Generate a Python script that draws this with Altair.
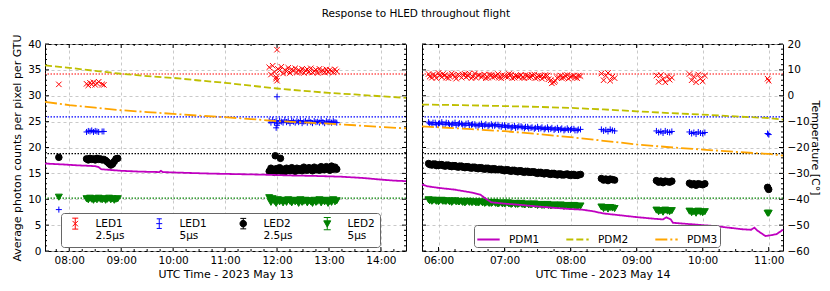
import altair as alt
import pandas as pd

FONT = "DejaVu Sans"

# ---------------- axes ----------------
LEFT_X_DOMAIN = ["07:32", "14:29"]
RIGHT_X_DOMAIN = ["05:45", "11:13"]
LEFT_HOUR_TICKS = [8, 9, 10, 11, 12, 13, 14]
RIGHT_HOUR_TICKS = [6, 7, 8, 9, 10, 11]
COUNT_DOMAIN = [0, 40]
COUNT_TICKS = [0, 5, 10, 15, 20, 25, 30, 35, 40]
TEMP_DOMAIN = [-60, 20]
TEMP_TICKS = [-60, -50, -40, -30, -20, -10, 0, 10, 20]

# ---------------- series definitions ----------------
LED_NAMES = ["LED1|2.5μs", "LED1|5μs", "LED2|2.5μs", "LED2|5μs"]
LED_COLORS = ["#ff0000", "#0000ff", "#000000", "#008000"]
X_PATH = "M-1,-1L1,1M-1,1L1,-1"
PLUS_PATH = "M-1,0L1,0M0,-1L0,1"
LED_SHAPES = [X_PATH, PLUS_PATH, "circle", "triangle-down"]
LED_SIZES = [30, 49, 49, 40]
# legend handles: marker with a small capped error bar
LED_LEGEND_SHAPES = [
    "M-1,-1L1,1M-1,1L1,-1M0,-2L0,2M-1.1,-2L1.1,-2M-1.1,2L1.1,2",
    "M-1,0L1,0M0,-1.6L0,1.6M-0.85,-1.6L0.85,-1.6M-0.85,1.6L0.85,1.6",
    "M1,0A1,1,0,1,1,-1,0A1,1,0,1,1,1,0ZM0,-1.6L0,1.6M-0.9,-1.6L0.9,-1.6M-0.9,1.6L0.9,1.6",
    "M-1,-0.8L1,-0.8L0,1ZM0,-1.75L0,1.75M-1,-1.75L1,-1.75M-1,1.75L1,1.75",
]

PDM_NAMES = ["PDM1", "PDM2", "PDM3"]
PDM_COLORS = ["#bf00bf", "#bfbf00", "#ffa500"]
PDM_DASHES = [[1, 0], [7, 3], [12, 3, 2, 3]]

REF_LEVELS = [34.2, 25.9, 18.8, 10.2]
REF_COLORS = ["#ff0000", "#0000ff", "#000000", "#008000"]

# ---------------- May 13 LED data ----------------
M13_SINGLE_T = ["07:48"]
M13_SINGLE_RED = [32.2]
M13_SINGLE_BLUE = [8.0]
M13_SINGLE_BLACK = [18.1]
M13_SINGLE_GREEN = [10.4]

M13_A_T_RB = ["08:20", "08:22", "08:24", "08:26", "08:28", "08:30", "08:32", "08:34", "08:38", "08:40"]
M13_A_RED = [32.3, 32.0, 32.5, 32.2, 32.6, 32.1, 32.4, 32.7, 32.2, 32.1]
M13_A_BLUE = [23.0, 23.2, 23.1, 23.3, 23.0, 23.2, 23.1, 23.0, 23.1, 23.1]
M13_A_T_KG = ["08:20", "08:22", "08:24", "08:26", "08:28", "08:30", "08:32", "08:34", "08:36", "08:38",
              "08:40", "08:42", "08:44", "08:46", "08:48", "08:50", "08:52", "08:54", "08:56"]
M13_A_BLACK = [17.8, 17.6, 17.9, 17.7, 17.8, 17.6, 17.9, 17.7, 17.8, 17.6,
               17.7, 17.5, 17.2, 16.9, 16.6, 16.8, 17.3, 17.8, 17.9]
M13_A_GREEN = [10.1, 9.9, 10.2, 10.0, 9.8, 10.1, 9.9, 10.2, 10.0, 9.9,
               10.1, 9.8, 10.0, 10.2, 9.9, 10.1, 9.8, 10.0, 10.1]

M13_B_T = ["11:51", "11:53", "11:55", "11:57", "11:59", "12:01", "12:03", "12:05", "12:07", "12:09",
           "12:11", "12:13", "12:15", "12:17", "12:19", "12:21", "12:23", "12:25", "12:27", "12:29",
           "12:31", "12:33", "12:35", "12:37", "12:39", "12:41", "12:43", "12:45", "12:47", "12:49",
           "12:51", "12:53", "12:55", "12:57", "12:59", "13:01", "13:03", "13:05", "13:07", "13:09"]
M13_B_RED = [35.5, 34.1, 35.8, 34.6, 33.6, 35.2, 34.9, 35.6, 34.3, 35.0,
             34.7, 35.4, 34.4, 35.1, 34.8, 35.3, 34.5, 35.0, 34.6, 35.2,
             34.4, 34.9, 35.1, 34.6, 35.3, 34.5, 34.8, 35.0, 34.4, 35.2,
             34.7, 34.9, 34.5, 35.1, 34.6, 35.0, 34.8, 34.5, 35.1, 34.7]
M13_B_BLUE = [25.2, 24.8, 25.3, 24.9, 25.1, 24.7, 25.2, 25.0, 24.8, 25.3,
              24.9, 25.1, 24.7, 25.2, 25.0, 24.8, 25.1, 24.9, 25.2, 24.7,
              25.0, 25.1, 24.8, 25.2, 24.9, 24.7, 25.1, 24.9, 25.0, 24.8,
              25.2, 24.9, 24.7, 25.1, 24.9, 25.0, 24.8, 25.1, 24.9, 24.8]
M13_B_BLACK = [15.4, 16.0, 15.6, 15.2, 15.9, 15.5, 16.1, 15.4, 15.8, 15.3,
               16.0, 15.6, 15.5, 16.1, 15.7, 15.4, 16.0, 15.6, 15.9, 15.5,
               16.2, 15.7, 15.6, 16.1, 15.8, 15.5, 16.2, 15.7, 16.0, 15.6,
               16.3, 15.8, 15.7, 16.3, 15.9, 15.6, 16.4, 15.8, 16.2, 15.8]
M13_B_GREEN = [10.3, 9.4, 10.1, 9.6, 9.2, 9.9, 9.5, 9.8, 9.3, 9.7,
               9.4, 9.9, 9.6, 9.3, 9.8, 9.5, 9.7, 9.2, 9.9, 9.4,
               9.6, 9.8, 9.3, 9.7, 9.5, 9.2, 9.8, 9.4, 9.6, 9.9,
               9.3, 9.7, 9.5, 9.8, 9.2, 9.6, 9.4, 9.9, 9.5, 9.7]

M13_OUT_S = ["LED1|2.5μs", "LED1|2.5μs", "LED1|2.5μs", "LED1|5μs", "LED1|5μs", "LED1|5μs",
             "LED2|2.5μs", "LED2|2.5μs"]
M13_OUT_T = ["12:00", "11:59", "12:00", "12:00", "11:59", "12:00", "11:58", "12:04"]
M13_OUT_V = [38.9, 33.3, 32.9, 29.8, 23.8, 24.3, 18.4, 17.9]

# ---------------- May 14 LED data ----------------
M14_C_T = ["05:51", "05:54", "05:57", "06:00", "06:03", "06:06", "06:09", "06:12", "06:15", "06:18",
           "06:21", "06:24", "06:27", "06:30", "06:33", "06:36", "06:39", "06:42", "06:45", "06:48",
           "06:51", "06:54", "06:57", "07:00", "07:03", "07:06", "07:09", "07:12", "07:15", "07:18",
           "07:21", "07:24", "07:27", "07:30", "07:33", "07:36", "07:39", "07:42", "07:45", "07:48",
           "07:51", "07:54", "07:57", "08:00", "08:03", "08:06", "08:09"]
M14_C_RED = [34.2, 33.5, 33.9, 34.4, 33.6, 34.0, 33.4, 34.3, 33.7, 34.1,
             33.5, 34.2, 33.8, 33.4, 34.3, 33.9, 33.6, 34.1, 33.5, 34.0,
             33.7, 34.2, 33.4, 33.9, 33.6, 34.1, 33.5, 33.8, 34.0, 33.4,
             33.9, 33.6, 34.1, 33.5, 33.8, 33.6, 33.9, 33.0, 32.6, 33.4,
             33.9, 33.5, 34.0, 33.6, 33.9, 33.4, 33.8]
M14_C_BLUE = [24.9, 24.5, 24.8, 24.6, 24.9, 24.5, 24.7, 24.4, 24.8, 24.5,
              24.6, 24.3, 24.7, 24.4, 24.5, 24.2, 24.6, 24.3, 24.1, 24.5,
              24.2, 24.4, 24.0, 24.3, 24.1, 23.8, 24.2, 23.9, 24.1, 23.7,
              24.0, 23.8, 23.6, 24.0, 23.7, 23.5, 23.9, 23.6, 23.4, 23.8,
              23.5, 23.3, 23.7, 23.4, 23.6, 23.3, 23.5]
M14_C_BLACK = [16.9, 16.6, 16.8, 16.5, 16.7, 16.4, 16.6, 16.3, 16.5, 16.2,
               16.4, 16.1, 16.3, 16.0, 16.2, 15.9, 16.1, 15.8, 16.0, 15.7,
               15.9, 15.7, 15.8, 15.5, 15.7, 15.4, 15.6, 15.3, 15.5, 15.2,
               15.4, 15.2, 15.3, 15.0, 15.2, 14.9, 15.1, 14.8, 15.0, 14.7,
               14.9, 14.7, 14.9, 14.6, 14.8, 14.6, 14.8]
M14_C_GREEN = [9.9, 9.6, 9.8, 9.5, 9.8, 9.6, 9.7, 9.4, 9.7, 9.5,
               9.6, 9.3, 9.6, 9.4, 9.5, 9.3, 9.5, 9.2, 9.4, 9.2,
               9.4, 9.1, 9.3, 9.1, 9.3, 9.0, 9.2, 9.0, 9.2, 8.9,
               9.1, 8.9, 9.1, 8.8, 9.0, 8.8, 9.0, 8.7, 8.9, 8.7,
               8.9, 8.6, 8.8, 8.6, 8.8, 8.6, 8.7]
M14_C2_T = ["05:52", "05:55", "05:58", "06:01", "06:04", "06:07", "06:10", "06:13", "06:16", "06:19",
            "06:22", "06:25", "06:28", "06:31", "06:34", "06:37", "06:40", "06:43", "06:46", "06:49",
            "06:52", "06:55", "06:58", "07:01", "07:04", "07:07", "07:10", "07:13", "07:16", "07:19",
            "07:22", "07:25", "07:28", "07:31", "07:34", "07:37", "07:40", "07:43", "07:46", "07:49",
            "07:52", "07:55", "07:58", "08:01", "08:04", "08:07"]
M14_C2_RED = [33.7, 34.1, 33.4, 33.9, 34.2, 33.5, 33.8, 34.0, 33.3, 33.9,
              34.1, 33.6, 34.3, 33.7, 33.5, 34.0, 33.8, 33.4, 34.1, 33.6,
              33.9, 33.5, 34.0, 33.7, 34.2, 33.4, 33.9, 33.6, 33.5, 34.0,
              33.5, 34.0, 33.4, 33.9, 33.3, 34.0, 33.2, 32.4, 32.9, 33.6,
              33.4, 33.9, 33.3, 33.8, 33.5, 33.9]
M14_C2_BLUE = [24.6, 24.8, 24.4, 24.7, 24.5, 24.8, 24.4, 24.6, 24.3, 24.7,
               24.4, 24.6, 24.3, 24.5, 24.2, 24.4, 24.1, 24.5, 24.3, 24.2,
               24.4, 24.1, 24.3, 23.9, 24.2, 24.0, 23.8, 24.1, 23.9, 24.0,
               23.7, 23.9, 23.8, 23.6, 23.9, 23.7, 23.5, 23.8, 23.6, 23.4,
               23.7, 23.5, 23.4, 23.6, 23.3, 23.5]
M14_C2_BLACK = [16.7, 16.8, 16.5, 16.7, 16.5, 16.6, 16.4, 16.5, 16.3, 16.4,
                16.2, 16.3, 16.1, 16.2, 16.0, 16.1, 15.9, 16.0, 15.8, 15.9,
                15.7, 15.8, 15.6, 15.7, 15.5, 15.6, 15.4, 15.5, 15.3, 15.4,
                15.2, 15.3, 15.1, 15.2, 15.0, 15.1, 14.9, 15.0, 14.8, 14.9,
                14.7, 14.8, 14.7, 14.8, 14.6, 14.7]
M14_C2_GREEN = [9.7, 9.8, 9.6, 9.7, 9.6, 9.6, 9.5, 9.6, 9.5, 9.5,
                9.4, 9.5, 9.4, 9.4, 9.3, 9.4, 9.3, 9.3, 9.2, 9.3,
                9.2, 9.2, 9.1, 9.2, 9.1, 9.1, 9.0, 9.1, 9.0, 9.0,
                8.9, 9.0, 8.9, 8.9, 8.8, 8.9, 8.8, 8.8, 8.8, 8.8,
                8.7, 8.7, 8.7, 8.7, 8.7, 8.6]

M14_D1_T = ["08:28", "08:30", "08:32", "08:34", "08:36", "08:38", "08:40"]
M14_D1_RED = [34.3, 33.0, 33.9, 34.4, 32.9, 33.7, 33.4]
M14_D1_BLUE = [23.5, 23.2, 23.4, 23.1, 23.5, 23.3, 23.2]
M14_D1_BLACK = [14.0, 13.7, 13.9, 13.6, 13.9, 13.8, 13.7]
M14_D1_GREEN = [8.5, 8.2, 8.4, 8.1, 8.4, 8.3, 8.2]

M14_D2_T = ["09:18", "09:20", "09:22", "09:24", "09:26", "09:28", "09:30", "09:32"]
M14_D2_RED = [33.9, 32.7, 34.0, 33.2, 32.6, 33.8, 33.1, 33.5]
M14_D2_BLUE = [23.2, 22.9, 23.1, 22.8, 23.2, 23.0, 22.9, 23.1]
M14_D2_BLACK = [13.6, 13.3, 13.5, 13.2, 13.5, 13.4, 13.3, 13.5]
M14_D2_GREEN = [7.9, 7.6, 7.8, 7.5, 7.9, 7.7, 7.6, 7.8]

M14_D3_T = ["09:48", "09:50", "09:52", "09:54", "09:56", "09:58", "10:00", "10:02"]
M14_D3_RED = [34.2, 33.0, 33.7, 32.6, 34.1, 33.3, 32.8, 33.9]
M14_D3_BLUE = [23.0, 22.7, 22.9, 22.6, 23.0, 22.8, 22.7, 22.9]
M14_D3_BLACK = [13.1, 12.8, 13.0, 12.7, 13.0, 12.9, 12.8, 13.0]
M14_D3_GREEN = [7.7, 7.4, 7.6, 7.3, 7.7, 7.5, 7.4, 7.6]

M14_D4_T = ["10:59", "11:00"]
M14_D4_RED = [33.3, 32.9]
M14_D4_BLUE = [22.7, 22.5]
M14_D4_BLACK = [12.3, 11.9]
M14_D4_GREEN = [7.3, 7.3]

# ---------------- temperatures (°C) ----------------
M13_PDM1_T = ["07:32", "07:50", "08:10", "08:30", "08:34", "08:37", "09:00", "09:20", "09:44", "09:46",
              "09:48", "10:15", "10:45", "11:15", "11:45", "12:15", "12:45", "13:15", "13:40", "14:00",
              "14:15", "14:29"]
M13_PDM1 = [-26.2, -26.5, -26.9, -27.2, -27.6, -28.4, -29.0, -29.3, -29.5, -29.0,
            -29.5, -29.8, -30.1, -30.3, -30.5, -30.8, -31.0, -31.3, -31.8, -32.4,
            -32.8, -33.0]
M13_PDM23_T = ["07:32", "08:00", "08:30", "09:00", "09:30", "10:00", "10:30", "11:00", "11:30", "12:00",
               "12:30", "13:00", "13:30", "14:00", "14:29"]
M13_PDM2 = [11.7, 10.8, 9.6, 8.5, 7.6, 6.9, 5.9, 5.0, 3.9, 2.8, 1.9, 1.1, 0.5, -0.2, -0.8]
M13_PDM3 = [-2.4, -3.6, -4.6, -5.6, -6.3, -7.0, -7.7, -8.3, -9.0, -9.8, -10.3, -10.8, -11.4, -12.1, -12.6]

M14_PDM1_T = ["05:45", "05:50", "06:00", "06:15", "06:30", "06:38", "06:42", "06:48", "07:00", "07:15",
              "07:30", "07:45", "08:00", "08:10", "08:20", "08:30", "08:45", "09:00", "09:15", "09:24",
              "09:27", "09:31", "09:33", "09:45", "10:00", "10:12", "10:24", "10:36", "10:44", "10:47",
              "10:50", "10:57", "11:02", "11:07", "11:13"]
M14_PDM1 = [-34.3, -35.0, -35.6, -36.3, -37.4, -38.2, -39.5, -41.2, -41.7, -42.2,
            -42.8, -43.3, -43.8, -44.0, -44.6, -45.5, -46.2, -46.9, -47.5, -47.8,
            -47.0, -47.8, -49.1, -49.5, -50.0, -50.4, -51.0, -51.6, -51.8, -51.0,
            -52.2, -54.2, -53.9, -53.5, -51.8]
M14_PDM23_T = ["05:45", "06:00", "06:30", "07:00", "07:30", "08:00", "08:30", "09:00", "09:30", "10:00",
               "10:30", "11:00", "11:13"]
M14_PDM2 = [-3.4, -3.5, -3.7, -4.0, -4.3, -4.7, -5.3, -6.0, -6.7, -7.3, -8.0, -8.6, -9.2]
M14_PDM3 = [-11.8, -12.2, -12.9, -13.7, -14.8, -16.0, -17.4, -18.8, -19.9, -20.8, -21.7, -22.5, -23.1]

TITLE = "Response to HLED throughout flight"
X_TITLE_LEFT = "UTC Time - 2023 May 13"
X_TITLE_RIGHT = "UTC Time - 2023 May 14"
Y_TITLE_LEFT = "Average photon counts per pixel per GTU"
Y_TITLE_RIGHT = "Temperature [C°]"

W, H = 361, 207


def hrs(s):
    h, m = s.split(":")
    return int(h) + int(m) / 60.0


def led_frame(blocks):
    rows = []
    for times, per_series in blocks:
        for name, vals in zip(LED_NAMES, per_series):
            if vals is None:
                continue
            for t, v in zip(times, vals):
                rows.append({"t": hrs(t), "v": v, "s": name})
    return rows


def order_frame(rows):
    df = pd.DataFrame(rows)
    df["o"] = df["s"].map({n: i for i, n in enumerate(LED_NAMES)})
    return df.sort_values("o", kind="stable")


m13_rows = led_frame([
    (M13_SINGLE_T, [M13_SINGLE_RED, M13_SINGLE_BLUE, M13_SINGLE_BLACK, M13_SINGLE_GREEN]),
    (M13_A_T_RB, [M13_A_RED, M13_A_BLUE, None, None]),
    (M13_A_T_KG, [None, None, M13_A_BLACK, M13_A_GREEN]),
    (M13_B_T, [M13_B_RED, M13_B_BLUE, M13_B_BLACK, M13_B_GREEN]),
])
for s, t, v in zip(M13_OUT_S, M13_OUT_T, M13_OUT_V):
    m13_rows.append({"t": hrs(t), "v": v, "s": s})
m13_points = order_frame(m13_rows)

m14_points = order_frame(led_frame([
    (M14_C_T, [M14_C_RED, M14_C_BLUE, M14_C_BLACK, M14_C_GREEN]),
    (M14_C2_T, [M14_C2_RED, M14_C2_BLUE, M14_C2_BLACK, M14_C2_GREEN]),
    (M14_D1_T, [M14_D1_RED, M14_D1_BLUE, M14_D1_BLACK, M14_D1_GREEN]),
    (M14_D2_T, [M14_D2_RED, M14_D2_BLUE, M14_D2_BLACK, M14_D2_GREEN]),
    (M14_D3_T, [M14_D3_RED, M14_D3_BLUE, M14_D3_BLACK, M14_D3_GREEN]),
    (M14_D4_T, [M14_D4_RED, M14_D4_BLUE, M14_D4_BLACK, M14_D4_GREEN]),
]))


def temp_frame(items):
    rows = []
    for name, times, vals in items:
        for t, v in zip(times, vals):
            rows.append({"t": hrs(t), "temp": v, "p": name})
    return pd.DataFrame(rows)


m13_temps = temp_frame([("PDM1", M13_PDM1_T, M13_PDM1), ("PDM2", M13_PDM23_T, M13_PDM2),
                        ("PDM3", M13_PDM23_T, M13_PDM3)])
m14_temps = temp_frame([("PDM1", M14_PDM1_T, M14_PDM1), ("PDM2", M14_PDM23_T, M14_PDM2),
                        ("PDM3", M14_PDM23_T, M14_PDM3)])


def minor_hours(lo, hi, majors):
    out = []
    q = int(lo * 4) + 1
    while q / 4.0 < hi:
        v = q / 4.0
        if v not in majors:
            out.append(v)
        q += 1
    return out


COUNT_MINOR = [i for i in range(1, 40) if i % 5]


def led_legend(x, y):
    return alt.Legend(title=None, orient="none", legendX=x, legendY=y, direction="horizontal", columns=4,
                      labelExpr="split(datum.label, '|')", labelFont=FONT, labelFontSize=10.5,
                      labelColor="black", labelOffset=15, columnPadding=25, symbolOffset=4, padding=5,
                      strokeColor="#666666", fillColor="#ffffff", cornerRadius=3, symbolStrokeWidth=1,
                      labelLimit=200, gridAlign="all")


def pdm_legend(x, y):
    return alt.Legend(title=None, orient="none", legendX=x, legendY=y, direction="horizontal",
                      columns=3, symbolType="stroke", symbolSize=500, symbolStrokeWidth=2,
                      labelFont=FONT, labelFontSize=10.5, labelColor="black", labelOffset=8,
                      columnPadding=22, padding=2, strokeColor="#666666", fillColor="#ffffff",
                      cornerRadius=3, labelLimit=200)


def led_encoding(X, Yenc, shapes, legend):
    return dict(
        x=X(), y=Yenc,
        color=alt.Color("s:N", scale=alt.Scale(domain=LED_NAMES, range=LED_COLORS), legend=legend),
        stroke=alt.Stroke("s:N", scale=alt.Scale(domain=LED_NAMES, range=LED_COLORS), legend=legend),
        shape=alt.Shape("s:N", scale=alt.Scale(domain=LED_NAMES, range=shapes), legend=legend),
        size=alt.Size("s:N", scale=alt.Scale(domain=LED_NAMES, range=LED_SIZES), legend=legend),
    )


def panel(points, temps, xdom, hour_ticks, xtitle, is_left):
    lo, hi = hrs(xdom[0]), hrs(xdom[1])
    xs = alt.Scale(domain=[lo, hi], nice=False, zero=False)
    xaxis = alt.Axis(values=hour_ticks, labelExpr="(datum.value < 10 ? '0' : '') + datum.value + ':00'",
                     title=xtitle, grid=True, ticks=False, domain=False, labelPadding=4,
                     titlePadding=3, labelFlush=False)

    def X():
        return alt.X("t:Q", scale=xs, axis=xaxis)

    cs = alt.Scale(domain=COUNT_DOMAIN, nice=False, zero=False)
    if is_left:
        caxis = alt.Axis(values=COUNT_TICKS, title=Y_TITLE_LEFT, grid=True, ticks=False, domain=False,
                         labelPadding=4, titlePadding=5, orient="left")
    else:
        caxis = None

    def Y():
        return alt.Y("v:Q", scale=cs, axis=caxis)

    ts = alt.Scale(domain=TEMP_DOMAIN, nice=False, zero=False)
    if is_left:
        taxis = None
    else:
        taxis = alt.Axis(values=TEMP_TICKS, title=Y_TITLE_RIGHT, grid=True, ticks=False, domain=False,
                         labelPadding=4, titlePadding=0, orient="right", format="d")

    layers = []
    for lvl, col in zip(REF_LEVELS, REF_COLORS):
        layers.append(alt.Chart(pd.DataFrame({"v": [lvl]})).mark_rule(
            color=col, strokeDash=[1.5, 1.5], strokeWidth=1.2).encode(y=Y()))

    pts = alt.Chart(points).mark_point(filled=True, opacity=1, strokeWidth=1).encode(
        order=alt.Order("o:Q"), **led_encoding(X, Y(), LED_SHAPES, None))
    layers.append(pts)

    minors = minor_hours(lo, hi, hour_ticks)
    for vals, ln in ((hour_ticks, 4), (minors, 2)):
        df = pd.DataFrame({"t": vals})
        layers.append(alt.Chart(df).mark_rule(color="black", strokeWidth=1).encode(
            x=X(), y=alt.value(0), y2=alt.value(ln)))
        layers.append(alt.Chart(df).mark_rule(color="black", strokeWidth=1).encode(
            x=X(), y=alt.value(H), y2=alt.value(H - ln)))
    for vals, ln in ((COUNT_TICKS, 4), (COUNT_MINOR, 2)):
        df = pd.DataFrame({"v": vals})
        layers.append(alt.Chart(df).mark_rule(color="black", strokeWidth=1).encode(
            y=Y(), x=alt.value(0), x2=alt.value(ln)))
        layers.append(alt.Chart(df).mark_rule(color="black", strokeWidth=1).encode(
            y=Y(), x=alt.value(W), x2=alt.value(W - ln)))

    inner = alt.layer(*layers)

    pl = None if is_left else pdm_legend(52, 181)
    lines = alt.Chart(temps).mark_line(strokeWidth=1.8).encode(
        x=X(),
        y=alt.Y("temp:Q", scale=ts, axis=taxis),
        color=alt.Color("p:N", scale=alt.Scale(domain=PDM_NAMES, range=PDM_COLORS), legend=pl),
        strokeDash=alt.StrokeDash("p:N", scale=alt.Scale(domain=PDM_NAMES, range=PDM_DASHES), legend=pl),
    )
    outer = [inner, lines]

    if is_left:
        # legend-only layer: one entry per LED series, placed outside the plotted range and clipped
        key = pd.DataFrame({"t": [lo] * len(LED_NAMES), "v": [-100.0] * len(LED_NAMES), "s": LED_NAMES})
        key_layer = alt.Chart(key).mark_point(filled=True, opacity=1, strokeWidth=1, clip=True).encode(
            **led_encoding(X, alt.Y("v:Q", scale=cs, axis=None), LED_LEGEND_SHAPES, led_legend(16, 169)))
        outer.append(key_layer)

    return alt.layer(*outer).resolve_scale(
        y="independent", color="independent", stroke="independent", shape="independent",
        size="independent", strokeDash="independent").properties(width=W, height=H)


left = panel(m13_points, m13_temps, LEFT_X_DOMAIN, LEFT_HOUR_TICKS, X_TITLE_LEFT, True)
right = panel(m14_points, m14_temps, RIGHT_X_DOMAIN, RIGHT_HOUR_TICKS, X_TITLE_RIGHT, False)
chart = alt.hconcat(left, right, spacing=6).resolve_scale(
    x="independent", y="independent", color="independent", stroke="independent",
    shape="independent", size="independent", strokeDash="independent")
chart = chart.properties(
    title=alt.TitleParams(TITLE, font=FONT, fontSize=10.5, fontWeight="normal", anchor="middle",
                          color="black", offset=14),
    padding={"left": 3, "top": 0, "right": 0, "bottom": 0},
).configure(font=FONT).configure_view(stroke="black", strokeWidth=1).configure_axis(
    labelFont=FONT, titleFont=FONT, labelFontSize=10.5, titleFontSize=11, labelColor="black",
    titleColor="black", titleFontWeight="normal", gridColor="#bbbbbb", gridDash=[3, 3],
    gridWidth=0.8)

chart.save("out.html", embed_options={"renderer": "svg", "actions": False})
